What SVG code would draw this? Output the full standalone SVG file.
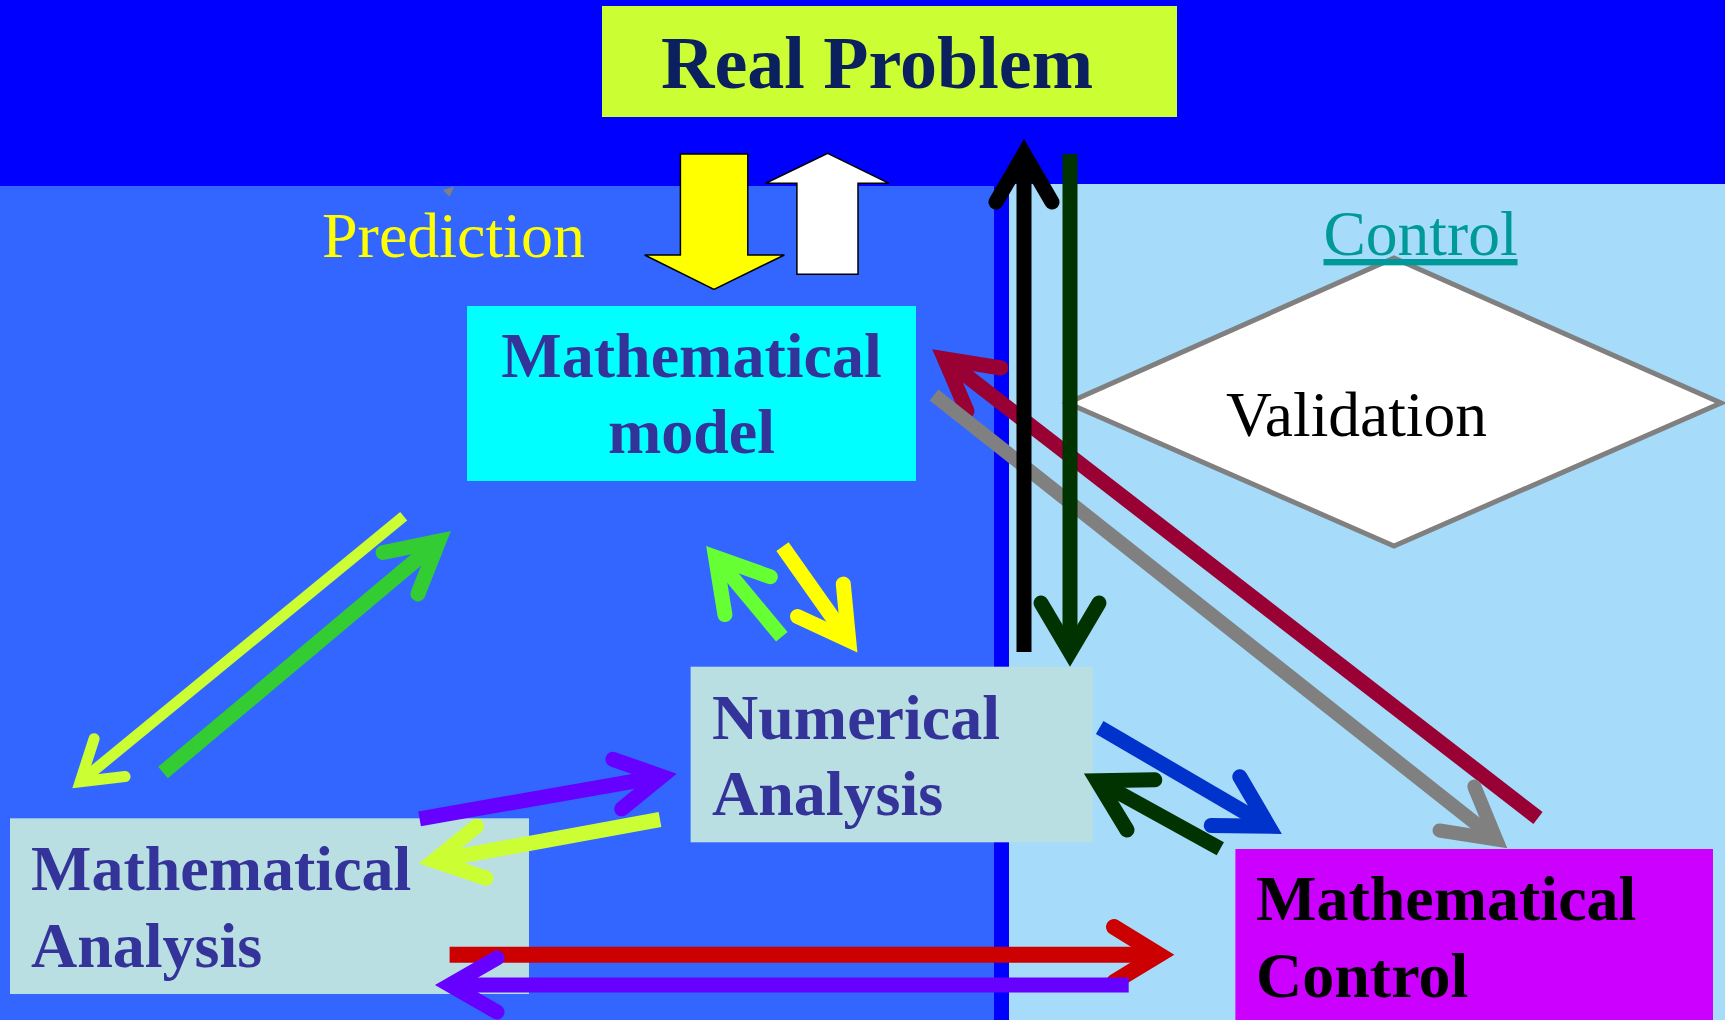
<svg xmlns="http://www.w3.org/2000/svg" width="1725" height="1020" viewBox="0 0 1725 1020">
<style>
.t{font-family:"Liberation Serif","Times New Roman",serif}
.b{font-weight:bold}
.box{fill:#BADFE3}
.lbl{font-size:64px;font-weight:bold;fill:#333399}
.sh{fill:none;stroke-linecap:butt}
.hd{fill:none;stroke-linecap:round;stroke-linejoin:miter;stroke-miterlimit:6}
</style>
<g id="background">
<rect x="0" y="0" width="1725" height="1020" fill="#0000FF"/>
<rect x="0" y="186" width="994" height="834" fill="#3366FF"/>
<rect x="1009" y="184" width="716" height="836" fill="#A6DCFA"/>
<polygon points="443,190 454,186.7 449.6,196.7" fill="#808080"/>
</g>
<g id="real-problem">
<rect x="602" y="6" width="575" height="111" fill="#CCFF33"/>
<text class="t b" x="661" y="88" font-size="74" fill="#0B205E">Real Problem</text>
</g>
<g id="prediction">
<text class="t" x="322" y="257" font-size="64" fill="#FFFF00">Prediction</text>
</g>
<g id="validation">
<polygon points="1394,258 1721,403 1394,546 1067.5,403" fill="#FFFFFF" stroke="#808080" stroke-width="5"/>
<text class="t" x="1226" y="436" font-size="63.5" fill="#000000">Validation</text>
</g>
<g id="control">
<text class="t" x="1323.5" y="255" font-size="63.5" fill="#009999" text-decoration="underline">Control</text>
</g>
<g id="mathematical-model">
<rect x="467" y="306" width="449" height="175" fill="#00FFFF"/>
<text class="t lbl" x="691.5" y="377" text-anchor="middle">Mathematical</text>
<text class="t lbl" x="691.5" y="453" text-anchor="middle">model</text>
</g>
<g id="numerical-analysis">
<rect class="box" x="690.6" y="666.7" width="402" height="175.6"/>
<text class="t lbl" x="712" y="739">Numerical</text>
<text class="t lbl" x="712" y="815">Analysis</text>
</g>
<g id="mathematical-analysis">
<rect class="box" x="10" y="818.3" width="519" height="175.7"/>
<text class="t lbl" x="31" y="890">Mathematical</text>
<text class="t lbl" x="31" y="966.7">Analysis</text>
</g>
<g id="mathematical-control">
<rect x="1235.4" y="849" width="477.6" height="171" fill="#CC00FF"/>
<text class="t b" x="1256" y="920" font-size="64" fill="#000000">Mathematical</text>
<text class="t b" x="1256" y="996.7" font-size="64" fill="#000000">Control</text>
</g>
<g id="block-arrows">
<polygon points="680.4,154 747.8,154 747.8,255 784.4,255 714,289.3 644.6,255 680.4,255" fill="#FFFF00" stroke="#000000" stroke-width="1.5"/>
<polygon points="827.7,153.3 889,183.3 858,183.3 858,274.3 796.9,274.3 796.9,183.3 765.6,183.3" fill="#FFFFFF" stroke="#000000" stroke-width="1.5"/>
</g>
<g id="connectors">
<g stroke="#990033" stroke-width="15"><path class="sh" d="M1538,818 L944.5,358.8"/><path class="hd" d="M1001,368 L944.5,358.8 L967,411"/></g>
<g stroke="#808080" stroke-width="14"><path class="sh" d="M934,395 L1496,839.5"/><path class="hd" d="M1474.3,786.5 L1496.1,839.5 L1439.5,830.5"/></g>
<g stroke="#000000" stroke-width="15"><path class="sh" d="M1024,652 L1024,154"/><path class="hd" d="M996,202 L1024,154 L1052,202"/></g>
<g stroke="#003300" stroke-width="15"><path class="sh" d="M1070,154 L1070,652"/><path class="hd" d="M1041,603 L1070,652 L1099,603"/></g>
<g stroke="#0033CC" stroke-width="15"><path class="sh" d="M1099.7,727.5 L1268.7,826.3"/><path class="hd" d="M1239.8,776.7 L1268.7,826.3 L1211.2,825.5"/></g>
<g stroke="#003300" stroke-width="15"><path class="sh" d="M1220.3,848.8 L1097.1,780.7"/><path class="hd" d="M1154.8,779.8 L1097.1,780.7 L1127,830"/></g>
<g stroke="#66FF33" stroke-width="15"><path class="sh" d="M781.8,636.7 L715.6,557.3"/><path class="hd" d="M770.3,576.8 L715.6,557.3 L724.9,614.6"/></g>
<g stroke="#FFFF00" stroke-width="15"><path class="sh" d="M782.5,546.7 L848.7,640.3"/><path class="hd" d="M843.3,584.1 L848.7,640.3 L797.5,616.5"/></g>
<g stroke="#CCFF33" stroke-width="11"><path class="sh" d="M403.7,516.2 L80.2,781.7"/><path class="hd" d="M125.1,776.5 L80.2,781.7 L94.1,738.7"/></g>
<g stroke="#33CC33" stroke-width="15"><path class="sh" d="M163,772.5 L438.8,541.1"/><path class="hd" d="M383.1,552.5 L438.8,541.1 L417.9,593.9"/></g>
<g stroke="#6600FF" stroke-width="15"><path class="sh" d="M419.6,818.8 L661.6,776.3"/><path class="hd" d="M612.9,759.3 L661.6,776.3 L621.7,808.9"/></g>
<g stroke="#CCFF33" stroke-width="15"><path class="sh" d="M660,819.5 L434.1,860.8"/><path class="hd" d="M476.6,826.2 L434.1,860.8 L486,878.2"/></g>
<g stroke="#CC0000" stroke-width="16"><path class="sh" d="M449.6,954.7 L1159,954.7"/><path class="hd" d="M1114,927 L1159,954.7 L1114,982"/></g>
<g stroke="#6600FF" stroke-width="15"><path class="sh" d="M1128.7,985 L450,985"/><path class="hd" d="M497,958 L450,985 L497,1012"/></g>
</g>
</svg>
